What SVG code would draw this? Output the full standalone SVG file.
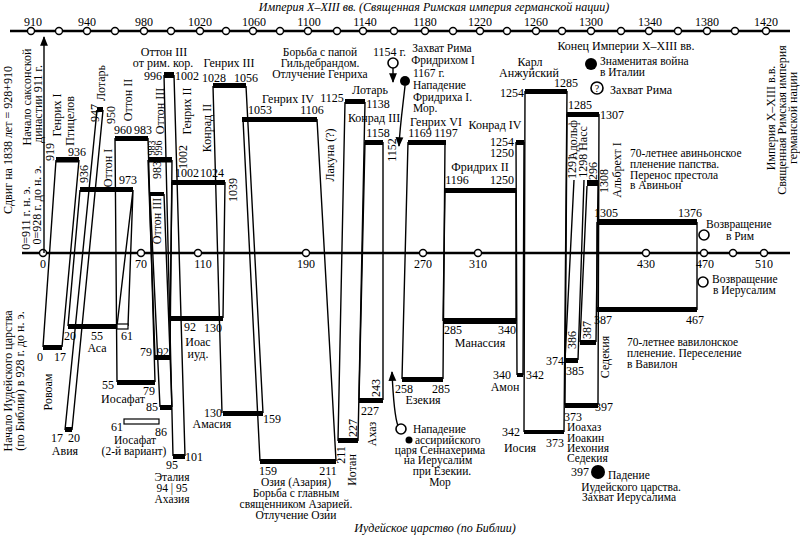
<svg xmlns="http://www.w3.org/2000/svg" width="800" height="536" viewBox="0 0 800 536">
<defs>
<style>
text{font-family:"Liberation Serif","DejaVu Serif",serif;font-size:12px;fill:#000}
.it{font-style:italic}
.m{text-anchor:middle}
.s{font-size:11.5px}
.bar{fill:#000}
.obar{fill:#fff;stroke:#000;stroke-width:1.2}
.ln{stroke:#000;stroke-width:1.4;fill:none}
.ax{stroke:#000;stroke-width:2.5}
.tk{fill:#fff;stroke:#000;stroke-width:1.4}
.ev{fill:#fff;stroke:#000;stroke-width:1.6}
</style>
<marker id="ah" viewBox="0 0 10 10" refX="9" refY="5" markerWidth="7" markerHeight="7" orient="auto-start-reverse"><path d="M0,1 L10,5 L0,9 Z" fill="#000"/></marker>
</defs>
<rect width="800" height="536" fill="#fff"/>

<g id="axes">
<text class="it m" x="434" y="11">Империя X–XIII вв. (Священная Римская империя германской нации)</text>
<line class="ax" x1="10" y1="31" x2="790" y2="31"/>
<g class="tk">
<circle cx="31" cy="31" r="3.5"/><circle cx="59" cy="31" r="3.5"/><circle cx="87" cy="31" r="3.5"/><circle cx="115" cy="31" r="3.5"/><circle cx="144" cy="31" r="3.5"/><circle cx="171" cy="31" r="3.5"/><circle cx="200" cy="31" r="3.5"/><circle cx="226" cy="31" r="3.5"/><circle cx="253" cy="31" r="3.5"/><circle cx="280" cy="31" r="3.5"/><circle cx="308" cy="31" r="3.5"/><circle cx="337" cy="31" r="3.5"/><circle cx="363" cy="31" r="3.5"/><circle cx="394" cy="31" r="3.5"/><circle cx="425" cy="31" r="3.5"/><circle cx="453" cy="31" r="3.5"/><circle cx="480" cy="31" r="3.5"/><circle cx="507" cy="31" r="3.5"/><circle cx="536" cy="31" r="3.5"/><circle cx="562" cy="31" r="3.5"/><circle cx="591" cy="31" r="3.5"/><circle cx="621" cy="31" r="3.5"/><circle cx="649" cy="31" r="3.5"/><circle cx="678" cy="31" r="3.5"/><circle cx="707" cy="31" r="3.5"/><circle cx="735" cy="31" r="3.5"/><circle cx="766" cy="31" r="3.5"/>
</g>
<g class="m">
<text x="33" y="26">910</text><text x="87" y="26">940</text><text x="144" y="26">980</text><text x="200" y="26">1020</text><text x="254" y="26">1060</text><text x="309" y="26">1100</text><text x="365" y="26">1140</text><text x="425" y="26">1180</text><text x="480" y="26">1220</text><text x="536" y="26">1260</text><text x="591" y="26">1300</text><text x="650" y="26">1340</text><text x="707" y="26">1380</text><text x="766" y="26">1420</text>
</g>
<line class="ax" x1="22" y1="253" x2="790" y2="253"/>
<g class="tk">
<circle cx="43" cy="253" r="3.5"/><circle cx="141" cy="253" r="3.5"/><circle cx="198" cy="253" r="3.5"/><circle cx="306" cy="253" r="3.5"/><circle cx="423" cy="253" r="3.5"/><circle cx="478" cy="253" r="3.5"/><circle cx="646" cy="253" r="3.5"/><circle cx="704" cy="253" r="3.5"/><circle cx="733" cy="253" r="3.5"/><circle cx="764" cy="253" r="3.5"/>
</g>
<g class="m">
<text x="43" y="268">0</text><text x="141" y="268">70</text><text x="203" y="268">110</text><text x="306" y="268">190</text><text x="423" y="268">270</text><text x="478" y="268">310</text><text x="646" y="268">430</text><text x="705" y="268">470</text><text x="764" y="268">510</text>
</g>
<text class="it m" x="435" y="532">Иудейское царство (по Библии)</text>
<text class="m" transform="translate(8,140) rotate(-90)" dy="0.35em">Сдвиг на 1838 лет = 928+910</text>
<text class="m" transform="translate(27,97) rotate(-90)" dy="0.35em">Начало саксонской</text>
<text class="m" transform="translate(38,104) rotate(-90)" dy="0.35em">династии 911 г.</text>
<text class="m" transform="translate(26,218) rotate(-90)" dy="0.35em">0=911 г. н. э.</text>
<text class="m" transform="translate(37,205) rotate(-90)" dy="0.35em">0=928 г. до н. э.</text>
<text class="m" transform="translate(8,381) rotate(-90)" dy="0.35em">Начало Иудейского царства</text>
<text class="m" transform="translate(20,381) rotate(-90)" dy="0.35em">(по Библии) в 928 г. до н. э.</text>
<text class="m" transform="translate(771,118) rotate(-90)" dy="0.35em">Империя X–XIII в.в.</text>
<text class="m" transform="translate(782,120) rotate(-90)" dy="0.35em">Священная Римская империя</text>
<text class="m" transform="translate(793,118) rotate(-90)" dy="0.35em">германской нации</text>
</g>

<g id="connectors">
<line class="ln" x1="44" y1="253" x2="44" y2="37" marker-end="url(#ah)"/>
<path class="ln" d="M56,160 L43,347 M79,160 L62,347"/>
<path class="ln" d="M97,110 L65,430 M103,110 L72,430"/>
<path class="ln" d="M80,190 L68,326 M133,190 L117,326 M133,190 L128,326"/>
<path class="ln" d="M115,138 L117,382 M148,138 L155,382"/>
<path class="ln" d="M148,160 L155,357 M172,160 L170,357"/>
<path class="ln" d="M164,75 L173,456 M174,75 L185,456"/>
<path class="ln" d="M150,194 L160,407 M164,194 L172,407"/>
<path class="ln" d="M172,182 L170,318 M225,182 L223,318"/>
<path class="ln" d="M213,86 L222,413 M246,86 L263,413"/>
<path class="ln" d="M243,119 L260,461 M317,119 L336,461"/>
<path class="ln" d="M345,102 L338,441 M365,102 L358,441"/>
<path class="ln" d="M365,142 L359,400 M383,142 L383,400"/>
<path class="ln" d="M408,142 L402,379 M445,142 L443,379"/>
<path class="ln" d="M445,190 L443,321 M516,190 L516,321"/>
<path class="ln" d="M516,142 L517,375 M524,142 L523,375"/>
<path class="ln" d="M525,91 L524,432 M567,91 L564,432"/>
<path class="ln" d="M567,114 L565,405 M599,114 L598,405"/>
<path class="ln" d="M574,180 L565,360 M584,180 L578,360"/>
<path class="ln" d="M587,186 L580,342 M598,186 L596,342"/>
<path class="ln" d="M597,222 L597,310 M697,222 L697,310"/>
<line class="ln" x1="393" y1="68" x2="393" y2="82" marker-end="url(#ah)"/>
<path class="ln" d="M405,86 C403,105 400,125 399,146" marker-end="url(#ah)"/>
<path class="ln" d="M398,426 C394,415 393,395 392,372" marker-end="url(#ah)"/>
</g>

<g id="german">
<g id="heinrich1"><rect class="bar" x="56" y="157" width="23" height="5.5"/>
<text class="m" transform="translate(50,152) rotate(-90)" dy="0.35em">919</text><text class="m" x="77" y="156">936</text>
<text class="m" transform="translate(57,115) rotate(-90)" dy="0.35em">Генрих I</text><text class="m" transform="translate(70,121) rotate(-90)" dy="0.35em">Птицелов</text></g>
<g id="lothar1"><rect class="bar" x="97" y="107" width="6" height="5"/>
<text class="m" transform="translate(95,113) rotate(-90)" dy="0.35em">947</text><text class="m" transform="translate(111,115) rotate(-90)" dy="0.35em">950</text>
<text class="m" transform="translate(101,83) rotate(-90)" dy="0.35em">Лотарь</text></g>
<g id="otto1"><rect class="bar" x="80" y="187" width="53" height="5"/>
<text class="m" transform="translate(84,174) rotate(-90)" dy="0.35em">936</text><text class="m" x="128" y="184">973</text>
<text class="m" transform="translate(108,168) rotate(-90)" dy="0.35em">Оттон I</text></g>
<g id="otto2"><rect class="bar" x="115" y="136" width="33" height="5"/>
<text class="m" x="123" y="134">960</text><text class="m" x="143" y="134">983</text>
<text class="m" transform="translate(128,100) rotate(-90)" dy="0.35em">Оттон II</text></g>
<g id="otto3a"><rect class="bar" x="148" y="157" width="24" height="5.5"/>
<text class="m" style="font-size:10px" transform="translate(151,148) rotate(-90)" dy="0.35em">983</text><text class="m" style="font-size:10px" transform="translate(158,148) rotate(-90)" dy="0.35em">996</text>
<text class="m" transform="translate(160,111) rotate(-90)" dy="0.35em">Оттон III</text></g>
<g id="otto3b"><rect class="bar" x="164" y="72" width="10" height="6"/>
<text class="m" x="164" y="56">Оттон III</text><text class="m" x="163" y="67">от рим. кор.</text>
<text class="m" x="153" y="80">996</text><text class="m" x="187" y="80">1002</text></g>
<g id="otto3c"><rect class="bar" x="150" y="192" width="14" height="4"/>
<text class="m" transform="translate(157,170) rotate(-90)" dy="0.35em">983</text>
<text class="m" transform="translate(157,221) rotate(-90)" dy="0.35em">Оттон III</text></g>
<g id="heinrich2"><rect class="bar" x="172" y="180" width="53" height="5"/>
<text class="m" transform="translate(183,157) rotate(-90)" dy="0.35em">1002</text>
<text class="m" x="187" y="177">1002</text><text class="m" x="212" y="177">1024</text>
<text class="m" transform="translate(187,111) rotate(-90)" dy="0.35em">Генрих II</text></g>
<g id="konrad2"><text class="m" transform="translate(207,128) rotate(-90)" dy="0.35em">Конрад II</text>
<text class="m" transform="translate(233,190) rotate(-90)" dy="0.35em">1039</text></g>
<g id="heinrich3"><rect class="bar" x="213" y="83" width="33" height="5"/>
<text class="m" x="229" y="67">Генрих III</text><text class="m" x="214" y="82">1028</text><text class="m" x="246" y="82">1056</text></g>
<g id="heinrich4"><rect class="bar" x="242" y="117" width="75" height="5"/>
<text class="m" x="288" y="103">Генрих IV</text><text class="m" x="260" y="114">1053</text><text class="m" x="312" y="114">1106</text></g>
<g id="lacuna"><text class="m" transform="translate(330,155) rotate(-90)" dy="0.35em">Лакуна (?)</text></g>
<g id="gregory" class="s"><text class="m s" x="320" y="56">Борьба с папой</text><text class="m s" x="320" y="67">Гильдебрандом.</text><text class="m s" x="320" y="78">Отлучение Генриха</text></g>
<g id="lothar3"><rect class="bar" x="345" y="99" width="20" height="5"/>
<text class="m" x="332" y="102">1125</text><text class="m" x="370" y="94">Лотарь</text><text class="m" x="378" y="108">1138</text></g>
<g id="konrad3"><rect class="bar" x="365" y="140" width="18" height="5"/>
<text class="m" x="374" y="122">Конрад III</text><text class="m" x="378" y="137">1158</text>
<text class="m" transform="translate(392,150) rotate(-90)" dy="0.35em">1152</text></g>
<g id="rome1154"><text x="373" y="56">1154 г.</text><circle class="ev" cx="393" cy="63" r="5"/></g>
<g id="rome1167"><text class="m s" x="442" y="52">Захват Рима</text><text class="m s" x="443" y="64">Фридрихом I</text>
<text class="s" x="413" y="77">1167 г.</text><circle cx="405" cy="81" r="5"/>
<text class="s" x="413" y="89">Нападение</text><text class="s" x="413" y="101">Фридриха I.</text><text class="s" x="413" y="112">Мор.</text></g>
<g id="heinrich6"><rect class="bar" x="408" y="140" width="38" height="5"/>
<text class="m" x="436" y="126">Генрих VI</text><text class="m" x="420" y="137">1169</text><text class="m" x="446" y="137">1197</text></g>
<g id="friedrich2"><rect class="bar" x="445" y="188" width="71" height="5"/>
<text class="m" x="480" y="171">Фридрих II</text><text class="m" x="457" y="184">1196</text><text class="m" x="502" y="184">1250</text></g>
<g id="konrad4"><rect class="bar" x="516" y="140" width="8" height="5"/>
<text class="m" x="495" y="129">Конрад IV</text><text class="m" x="502" y="146">1254</text><text class="m" x="502" y="157">1250</text></g>
<g id="karl"><rect class="bar" x="525" y="89" width="42" height="5"/>
<text class="m" x="530" y="66">Карл</text><text class="m" x="529" y="77">Анжуйский</text><text class="m" x="512" y="97">1254</text><text class="m" x="566" y="87">1285</text></g>
<g id="r1285"><rect class="bar" x="567" y="112" width="32" height="5"/>
<text class="m" x="580" y="109">1285</text><text class="m" x="612" y="119">1307</text>
<text class="m" transform="translate(573,140) rotate(-90)" dy="0.35em">Адольф</text>
<text class="m" transform="translate(572,167) rotate(-90)" dy="0.35em">1291</text>
<text class="m" transform="translate(583,152) rotate(-90)" dy="0.35em">1298 Насс</text>
<text class="m" transform="translate(593,174) rotate(-90)" dy="0.35em">1296</text>
<rect class="bar" x="587" y="180" width="11" height="6"/>
<text class="m" transform="translate(604,181) rotate(-90)" dy="0.35em">1308</text>
<text class="m" transform="translate(617,170) rotate(-90)" dy="0.35em">Альбрехт I</text></g>
<g id="end"><text class="m" x="626" y="50">Конец Империи X–XIII вв.</text>
<circle cx="591" cy="64" r="6"/><text class="s" x="600" y="65">Знаменитая война</text><text class="s" x="600" y="76">в Италии</text>
<circle class="ev" cx="597" cy="88" r="6"/><text class="m" style="font-size:10px" x="597" y="92">?</text><text x="610" y="94">Захват Рима</text></g>
<g id="avignon"><text class="s" x="630" y="157">70-летнее авиньонское</text><text class="s" x="630" y="168">пленение папства.</text><text class="s" x="630" y="179">Перенос престола</text><text class="s" x="630" y="189">в Авиньон</text>
<rect class="bar" x="597" y="219" width="100" height="6"/>
<text class="m" x="606" y="217">1305</text><text class="m" x="690" y="217">1376</text>
<circle class="ev" cx="704" cy="235" r="5"/><text class="s" x="706" y="228">Возвращение</text><text class="m s" x="740" y="240">в Рим</text></g>
</g>

<g id="judah">
<g id="rehoboam"><rect class="bar" x="43" y="345" width="19" height="5"/>
<text class="m" x="40" y="361">0</text><text class="m" x="60" y="361">17</text>
<text class="m" transform="translate(48,392) rotate(-90)" dy="0.35em">Ровоам</text></g>
<g id="abijah"><rect class="bar" x="65" y="427" width="7" height="5"/>
<text class="m" x="57" y="442">17</text><text class="m" x="74" y="442">20</text><text class="m" x="65" y="455">Авия</text></g>
<g id="asa"><rect class="bar" x="68" y="324" width="49" height="5"/><rect class="obar" x="117" y="324" width="11" height="5"/>
<text class="m" x="70" y="340">20</text><text class="m" x="97" y="340">55</text><text class="m" x="127" y="340">61</text><text class="m" x="97" y="352">Аса</text></g>
<g id="jehoram"><rect class="bar" x="155" y="355" width="15" height="5"/>
<text class="m" x="146" y="356">79</text><text class="m" x="163" y="356">92</text></g>
<g id="joash"><rect class="bar" x="170" y="316" width="53" height="5"/>
<text class="m" x="190" y="331">92</text><text class="m" x="213" y="332">130</text><text class="m" x="198" y="346">Иоас</text><text class="m" x="198" y="358">иуд.</text></g>
<g id="jehoshaphat"><rect class="bar" x="117" y="380" width="38" height="5"/>
<text class="m" x="108" y="389">55</text><text class="m" x="149" y="395">79</text><text class="m" x="123" y="403">Иосафат</text></g>
<g id="b85"><rect class="bar" x="160" y="405" width="12" height="5"/><text class="m" x="152" y="411">85</text></g>
<g id="jehoshaphat2"><rect class="obar" x="124" y="419" width="35" height="5"/>
<text class="m" x="117" y="431">61</text><text class="m" x="161" y="436">86</text><text class="m s" x="135" y="444">Иосафат</text><text class="m s" x="134" y="455">(2-й вариант)</text></g>
<g id="athaliah"><rect class="bar" x="173" y="454" width="12" height="5"/>
<text class="m" x="172" y="469">95</text><text class="m" x="194" y="461">101</text>
<text class="m s" x="172" y="481">Эталия</text><text class="m s" x="172" y="492">94 | 95</text><text class="m s" x="172" y="503">Ахазия</text></g>
<g id="amaziah"><rect class="bar" x="223" y="411" width="40" height="5"/>
<text class="m" x="213" y="417">130</text><text class="m" x="272" y="423">159</text><text class="m" x="212" y="428">Амасия</text></g>
<g id="uzziah"><rect class="bar" x="260" y="459" width="76" height="5"/>
<text class="m" x="268" y="475">159</text><text class="m" x="328" y="475">211</text>
<text class="m s" x="296" y="486">Озия (Азария)</text><text class="m s" x="296" y="497">Борьба с главным</text><text class="m s" x="296" y="508">священником Азарией.</text><text class="m s" x="296" y="519">Отлучение Озии</text></g>
<g id="jotham"><rect class="bar" x="338" y="438" width="20" height="5"/>
<text class="m" transform="translate(341,455) rotate(-90)" dy="0.35em">211</text><text class="m" transform="translate(353,428) rotate(-90)" dy="0.35em">227</text>
<text class="m" transform="translate(352,470) rotate(-90)" dy="0.35em">Иотан</text></g>
<g id="ahaz"><rect class="bar" x="359" y="398" width="24" height="5"/>
<text class="m" x="370" y="415">227</text><text class="m" transform="translate(376,388) rotate(-90)" dy="0.35em">243</text>
<text class="m" transform="translate(372,434) rotate(-90)" dy="0.35em">Ахаз</text></g>
<g id="sennacherib"><circle class="ev" cx="401" cy="429" r="5"/><circle cx="409" cy="440" r="3.5"/>
<text class="s" x="413" y="433">Нападение</text><text class="s" x="415" y="444">ассирийского</text><text class="m s" x="440" y="454">царя Сеннахерима</text><text class="m s" x="438" y="464">на Иерусалим</text><text class="m s" x="442" y="475">при Езекии.</text><text class="m s" x="440" y="486">Мор</text></g>
<g id="hezekiah"><rect class="bar" x="402" y="377" width="41" height="5"/>
<text class="m" x="404" y="393">258</text><text class="m" x="441" y="393">285</text><text class="m" x="423" y="404">Езекия</text></g>
<g id="manasseh"><rect class="bar" x="443" y="318" width="73" height="6"/>
<text class="m" x="453" y="334">285</text><text class="m" x="507" y="334">340</text><text class="m" x="480" y="347">Манассия</text></g>
<g id="amon"><rect class="bar" x="517" y="373" width="6" height="4"/>
<text class="m" x="502" y="379">340</text><text class="m" x="535" y="379">342</text><text class="m" x="505" y="391">Амон</text></g>
<g id="josiah"><rect class="bar" x="524" y="430" width="40" height="4"/>
<text class="m" x="511" y="436">342</text><text class="m" x="555" y="447">373</text><text class="m" x="520" y="452">Иосия</text></g>
<g id="b374"><rect class="bar" x="565" y="358" width="13" height="5"/>
<text class="m" x="555" y="365">374</text><text class="m" x="575" y="375">385</text>
<text class="m" transform="translate(572,340) rotate(-90)" dy="0.35em">386</text></g>
<g id="b386"><rect class="bar" x="580" y="340" width="16" height="5"/>
<text class="m" transform="translate(587,330) rotate(-90)" dy="0.35em">387</text>
<text class="m" transform="translate(605,357) rotate(-90)" dy="0.35em">Седекия</text></g>
<g id="jehoahaz"><rect class="bar" x="565" y="403" width="33" height="5"/>
<text class="m" x="573" y="421">373</text><text class="m" x="604" y="411">397</text>
<text class="s" x="567" y="431">Иоахаз</text><text class="s" x="567" y="442">Иоакин</text><text class="s" x="567" y="452">Иехония</text><text class="s" x="567" y="462">Седекия</text></g>
<g id="fall"><circle cx="598" cy="472" r="7"/><text class="m" x="580" y="476">397</text>
<text class="s" x="608" y="479">Падение</text><text class="m s" x="631" y="491">Иудейского царства.</text><text class="m s" x="629" y="501">Захват Иерусалима</text></g>
<g id="babylon"><rect class="bar" x="597" y="307" width="100" height="5"/>
<text class="m" x="603" y="324">387</text><text class="m" x="695" y="324">467</text>
<circle class="ev" cx="703" cy="282" r="5"/><text class="s" x="712" y="283">Возвращение</text><text class="s" x="713" y="294">в Иерусалим</text>
<text class="s" x="627" y="346">70-летнее вавилонское</text><text class="s" x="627" y="357">пленение. Переселение</text><text class="s" x="627" y="368">в Вавилон</text></g>
</g>
</svg>
